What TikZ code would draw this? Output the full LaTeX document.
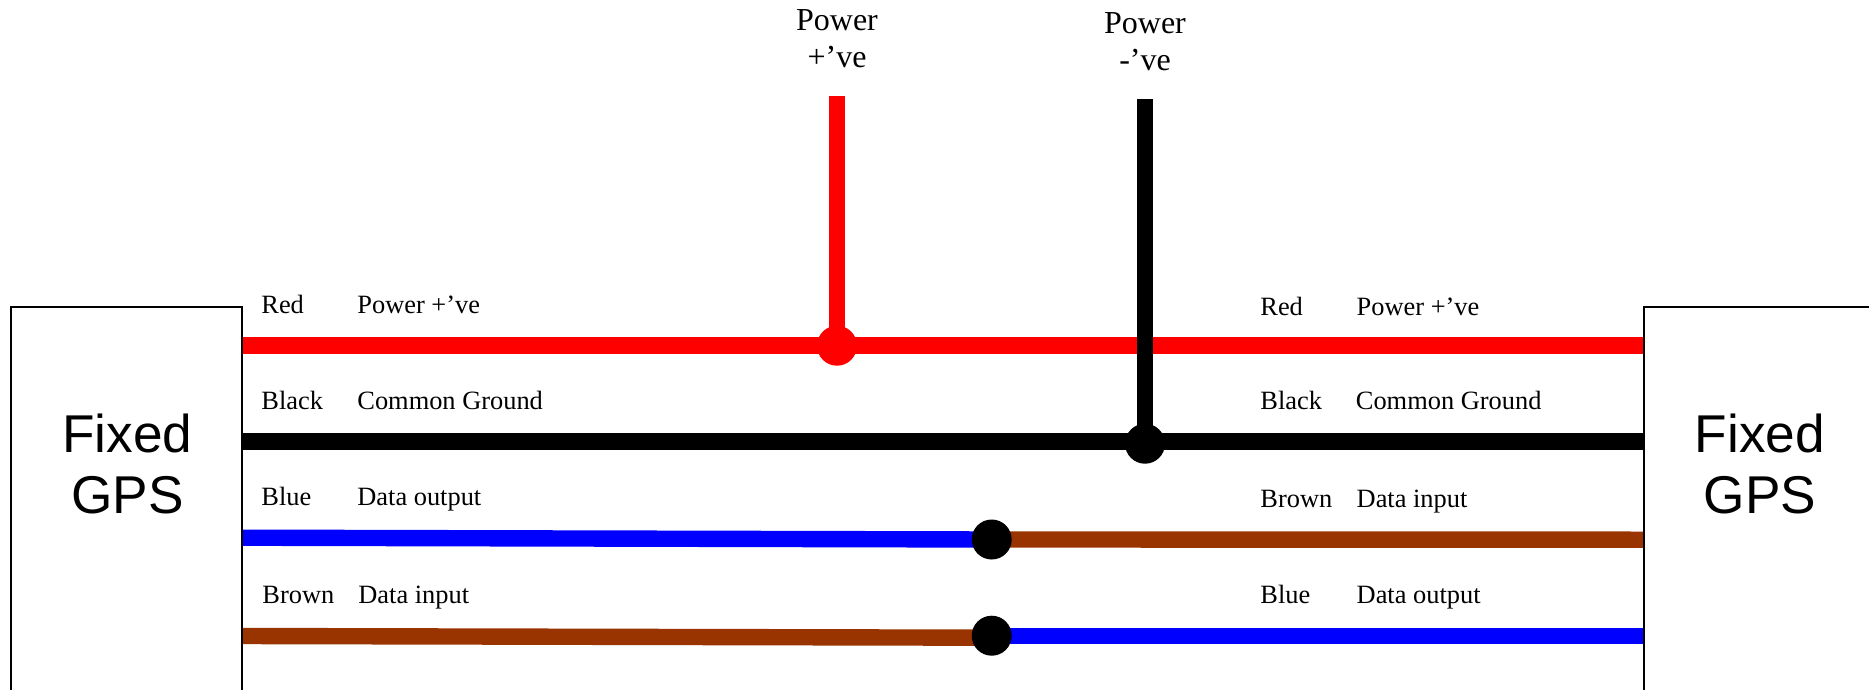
\documentclass[tikz,border=0pt]{standalone}
\usepackage{fontspec}
\setmainfont{Liberation Serif}
\newfontfamily\gpsFont{Liberation Sans}
\usetikzlibrary{positioning,backgrounds}
\definecolor{wireBrown}{RGB}{153,51,0}
\tikzset{
    wire/.style={line width=8.2pt, line cap=butt},
    gpsBox/.style={line width=1pt, black},
    joint/.style={circle, fill=#1, draw=none, minimum size=20pt, inner sep=0pt},
    wireText/.style={anchor=base west, inner sep=0pt, font=\fontsize{13.2}{16}\selectfont},
    powerText/.style={align=center, inner sep=0pt, font=\fontsize{16}{18.5}\selectfont},
    gpsText/.style={align=center, inner sep=0pt, font=\fontsize{26.6}{30.4}\gpsFont}
}

\begin{document}
\begin{tikzpicture}[x=0.5pt, y=-0.5pt]
    \useasboundingbox (0,0) rectangle (1869,690);

    % boxes run off the bottom and right of the page
    \coordinate (boxLeftBottomW) at (11,690);
    \coordinate (boxLeftTopW) at (11,307);
    \coordinate (boxLeftTopE) at (242,307);
    \coordinate (boxLeftBottomE) at (242,690);
    \coordinate (boxRightBottom) at (1644,690);
    \coordinate (boxRightTop) at (1644,307);
    \coordinate (boxRightEnd) at (1869,307);
    \draw[gpsBox] (boxLeftBottomW) -- (boxLeftTopW) -- (boxLeftTopE) -- (boxLeftBottomE);
    \draw[gpsBox] (boxRightBottom) -- (boxRightTop) -- (boxRightEnd);
    \node[gpsText] (gpsLeft) at (127.5,464) {Fixed\\GPS};
    \node[gpsText] (gpsRight) at (1760,464) {Fixed\\GPS};

    % wire ends
    \coordinate (redIn) at (242,345.5);
    \coordinate (redOut) at (1644,345.5);
    \coordinate (blackIn) at (242,441.5);
    \coordinate (blackOut) at (1644,441.5);
    \coordinate (blueIn) at (242,537.7);
    \coordinate (brownOut) at (1644,539.7);
    \coordinate (brownIn) at (242,636);
    \coordinate (brownEnd) at (991.7,637.7);
    \coordinate (blueOut) at (1645,635.7);
    \coordinate (powerPlus) at (837,96);
    \coordinate (powerMinus) at (1145,99);

    \node[joint=red] (jointRed) at (837,345.7) {};
    \node[joint=black] (jointBlack) at (1145,443.7) {};
    \node[joint=black] (jointUpper) at (991.7,539.5) {};
    \node[joint=black] (jointLower) at (991.7,635.7) {};

    \begin{pgfonlayer}{background}
        \draw[wire, red] (redIn) -- (redOut);
        \draw[wire, red] (powerPlus) -- (jointRed.center);
        \draw[wire, black] (blackIn) -- (blackOut);
        \draw[wire, black] (powerMinus) -- (jointBlack.center);
        \draw[wire, blue] (blueIn) -- (jointUpper.center);
        \draw[wire, wireBrown] (jointUpper.center) -- (brownOut);
        \draw[wire, wireBrown] (brownIn) -- (brownEnd);
        \draw[wire, blue] (jointLower.center) -- (blueOut);
    \end{pgfonlayer}

    \node[powerText, above=14pt of powerPlus] (plusText) {Power\\+’ve};
    \node[powerText, above=14pt of powerMinus] (minusText) {Power\\-’ve};

    % left hand labels
    \node[wireText] (redLeft) at (261,313.7) {Red};
    \node[wireText] (redLeftUse) at (357,313.7) {Power +’ve};
    \node[wireText] (blackLeft) at (261,409) {Black};
    \node[wireText] (blackLeftUse) at (357,409) {Common Ground};
    \node[wireText] (blueLeft) at (261,505) {Blue};
    \node[wireText] (blueLeftUse) at (357,505) {Data output};
    \node[wireText] (brownLeft) at (262,603.7) {Brown};
    \node[wireText] (brownLeftUse) at (358,603.7) {Data input};

    % right hand labels
    \node[wireText] (redRight) at (1260,315.7) {Red};
    \node[wireText] (redRightUse) at (1356.3,315.7) {Power +’ve};
    \node[wireText] (blackRight) at (1260,409) {Black};
    \node[wireText] (blackRightUse) at (1355.5,409) {Common Ground};
    \node[wireText] (brownRight) at (1260,507) {Brown};
    \node[wireText] (brownRightUse) at (1356.3,507) {Data input};
    \node[wireText] (blueRight) at (1260,603.7) {Blue};
    \node[wireText] (blueRightUse) at (1356.3,603.7) {Data output};
\end{tikzpicture}
\end{document}
